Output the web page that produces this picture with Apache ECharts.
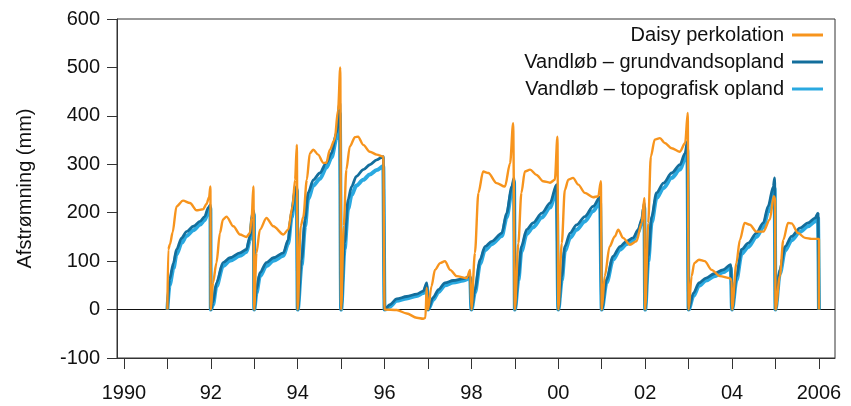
<!DOCTYPE html>
<html>
<head>
<meta charset="utf-8">
<script src="https://cdn.jsdelivr.net/npm/echarts@6/dist/echarts.min.js"></script>
<style>
html,body{margin:0;padding:0;background:#fff;}
#chart{width:851px;height:406px;}
</style>
</head>
<body>
<div id="chart"></div>
<script>
// Years with data (each year accumulates from 0 on 1 January)
const years = [1991,1992,1993,1994,1995,1996,1997,1998,1999,2000,2001,2002,2003,2004,2005];
const endYear = 2006;

// x tick positions (years) and labels
const xTickValues = [1990,1991,1992,1993,1994,1995,1996,1997,1998,1999,2000,2001,2002,2003,2004,2005,2006];
const xLabelValues = [1990,1992,1994,1996,1998,2000,2002,2004,2006];
const xLabelTexts = ['1990','92','94','96','98','00','02','04','2006'];

const seriesNames = ['Daisy perkolation','Vandløb – grundvandsopland','Vandløb – topografisk opland'];

// Daisy perkolation: per year, [fraction of year, cumulative mm]
const daisy = [
  [[0,0],[0.02,124],[0.06,135],[0.12,159],[0.21,213],[0.36,225],[0.52,220],[0.67,205],[0.82,207],[0.9,218],[0.96,232],[0.99,254]],
  [[0,0],[0.05,55],[0.13,97],[0.21,158],[0.28,186],[0.36,192],[0.52,172],[0.67,155],[0.82,150],[0.9,158],[0.94,190],[0.98,254]],
  [[0,0],[0.05,117],[0.13,165],[0.28,189],[0.44,172],[0.67,155],[0.78,165],[0.88,213],[0.94,268],[0.98,340]],
  [[0,0],[0.07,172],[0.13,192],[0.21,268],[0.28,323],[0.36,330],[0.47,320],[0.59,303],[0.66,303],[0.74,330],[0.85,351],[0.93,412],[0.98,500]],
  [[0,0],[0.06,172],[0.12,289],[0.2,337],[0.32,356],[0.39,357],[0.51,340],[0.66,326],[0.82,320],[0.97,316]],
  [[0,0],[0.28,-1],[0.51,-8],[0.74,-17],[0.89,-19],[0.94,-17],[0.97,45],[0.99,5]],
  [[0,0],[0.08,48],[0.16,82],[0.28,96],[0.39,100],[0.51,82],[0.66,69],[0.89,65],[0.97,82]],
  [[0,0],[0.08,117],[0.16,241],[0.27,285],[0.39,282],[0.58,261],[0.77,254],[0.89,302],[0.96,385]],
  [[0,0],[0.08,137],[0.15,241],[0.23,285],[0.35,289],[0.5,278],[0.65,265],[0.81,262],[0.92,268],[0.98,357]],
  [[0,0],[0.08,137],[0.15,247],[0.23,268],[0.34,272],[0.46,258],[0.61,241],[0.8,232],[0.92,234],[0.98,265]],
  [[0,0],[0.07,69],[0.18,130],[0.3,151],[0.38,165],[0.49,148],[0.65,134],[0.8,141],[0.92,179],[0.98,230]],
  [[0,0],[0.07,179],[0.13,316],[0.22,351],[0.34,354],[0.45,344],[0.61,333],[0.8,326],[0.92,344],[0.98,406]],
  [[0,0],[0.07,69],[0.13,96],[0.24,103],[0.37,100],[0.53,82],[0.72,69],[0.95,65],[0.99,60]],
  [[0,0],[0.1,96],[0.18,144],[0.29,179],[0.41,175],[0.56,161],[0.72,161],[0.87,186],[0.96,234],[0.99,230]],
  [[0,0],[0.1,69],[0.18,144],[0.29,179],[0.37,178],[0.52,158],[0.68,148],[0.83,146],[0.98,146],[1.0,146]]
];

// Vandløb – grundvandsopland
const grundvand = [
  [[0,0],[0.05,62],[0.14,96],[0.21,124],[0.33,148],[0.44,161],[0.6,172],[0.75,182],[0.86,192],[0.94,210],[0.99,216]],
  [[0,0],[0.05,15],[0.13,55],[0.28,97],[0.44,107],[0.67,117],[0.82,124],[0.9,151],[0.96,198],[0.99,204]],
  [[0,0],[0.05,41],[0.13,76],[0.28,97],[0.44,107],[0.67,117],[0.78,144],[0.86,200],[0.94,247],[0.98,255]],
  [[0,0],[0.09,103],[0.17,186],[0.24,241],[0.36,268],[0.51,282],[0.66,303],[0.78,323],[0.89,365],[0.97,427]],
  [[0,0],[0.08,138],[0.16,227],[0.24,254],[0.35,275],[0.51,289],[0.66,299],[0.82,309],[0.97,316]],
  [[0,0],[0.12,10],[0.28,22],[0.51,27],[0.74,32],[0.89,38],[0.97,55]],
  [[0,0],[0.12,25],[0.24,41],[0.39,55],[0.58,60],[0.82,64],[0.97,69]],
  [[0,0],[0.08,41],[0.2,103],[0.31,130],[0.47,141],[0.7,158],[0.81,199],[0.93,254],[0.98,272]],
  [[0,0],[0.08,69],[0.15,130],[0.27,165],[0.42,179],[0.62,199],[0.81,220],[0.96,258]],
  [[0,0],[0.08,69],[0.15,130],[0.27,158],[0.42,175],[0.61,192],[0.8,213],[0.96,232]],
  [[0,0],[0.11,62],[0.26,110],[0.42,130],[0.57,141],[0.72,148],[0.84,165],[0.92,186],[0.98,220]],
  [[0,0],[0.07,110],[0.15,192],[0.26,241],[0.42,261],[0.61,282],[0.8,299],[0.92,323],[0.97,347]],
  [[0,0],[0.11,34],[0.24,55],[0.4,65],[0.59,74],[0.79,82],[0.97,93]],
  [[0,0],[0.1,69],[0.22,124],[0.37,137],[0.56,158],[0.72,179],[0.83,213],[0.95,254],[0.98,272]],
  [[0,0],[0.1,82],[0.22,130],[0.37,151],[0.56,168],[0.75,179],[0.91,189],[0.98,199]]
];

// Vandløb – topografisk opland
const topografisk = [
  [[0,0],[0.05,50],[0.14,85],[0.21,114],[0.33,138],[0.44,152],[0.6,164],[0.75,175],[0.86,185],[0.94,203],[0.99,209]],
  [[0,0],[0.05,10],[0.13,48],[0.28,90],[0.44,101],[0.67,111],[0.82,119],[0.9,144],[0.96,190],[0.99,196]],
  [[0,0],[0.05,34],[0.13,69],[0.28,90],[0.44,101],[0.67,111],[0.78,136],[0.86,190],[0.94,238],[0.98,246]],
  [[0,0],[0.09,92],[0.17,172],[0.24,228],[0.36,256],[0.51,270],[0.66,293],[0.78,314],[0.89,352],[0.97,405]],
  [[0,0],[0.08,125],[0.16,208],[0.24,236],[0.35,256],[0.51,268],[0.66,279],[0.82,288],[0.97,296]],
  [[0,0],[0.12,6],[0.28,18],[0.51,23],[0.74,28],[0.89,34],[0.97,48]],
  [[0,0],[0.12,20],[0.24,36],[0.39,50],[0.58,56],[0.82,60],[0.97,65]],
  [[0,0],[0.08,35],[0.2,95],[0.31,123],[0.47,135],[0.7,152],[0.81,190],[0.93,244],[0.98,264]],
  [[0,0],[0.08,60],[0.15,120],[0.27,156],[0.42,170],[0.62,190],[0.81,211],[0.96,248]],
  [[0,0],[0.08,60],[0.15,120],[0.27,148],[0.42,165],[0.61,182],[0.8,203],[0.96,222]],
  [[0,0],[0.11,55],[0.26,103],[0.42,124],[0.57,135],[0.72,143],[0.84,160],[0.92,180],[0.98,210]],
  [[0,0],[0.07,100],[0.15,180],[0.26,230],[0.42,251],[0.61,272],[0.8,289],[0.92,312],[0.97,330]],
  [[0,0],[0.11,28],[0.24,49],[0.4,60],[0.59,69],[0.79,77],[0.97,86]],
  [[0,0],[0.1,60],[0.22,115],[0.37,129],[0.56,150],[0.72,170],[0.83,202],[0.95,238],[0.98,250]],
  [[0,0],[0.1,74],[0.22,122],[0.37,143],[0.56,160],[0.75,172],[0.91,182],[0.98,190]]
];

function buildSeries(perYear) {
  const out = [];
  perYear.forEach(function (pts, i) {
    pts.forEach(function (p) { out.push([years[i] + p[0], p[1]]); });
  });
  out.push([endYear, 0]);
  return out;
}

const FONT = 'Liberation Sans, Arial, Helvetica, sans-serif';
const FS = 20;
const chart = echarts.init(document.getElementById('chart'), null, {renderer: 'canvas'});

chart.setOption({
  animation: false,
  backgroundColor: '#ffffff',
  grid: {left: 117, right: 16, top: 19, bottom: 48, show: true, borderColor: '#333', borderWidth: 1, backgroundColor: 'transparent'},
  legend: {
    orient: 'vertical',
    right: 23,
    top: 20,
    align: 'right',
    icon: 'rect',
    itemWidth: 31,
    itemHeight: 3,
    itemGap: 7,
    textStyle: {fontFamily: FONT, fontSize: FS, color: '#111', padding: [0, 3, 0, 0]},
    data: seriesNames
  },
  xAxis: {
    type: 'value',
    min: 1989.84,
    max: 2006.37,
    splitLine: {show: false},
    axisLine: {show: true, onZero: false, lineStyle: {color: '#333', width: 1}},
    axisTick: {show: true, length: 11, lineStyle: {color: '#333', width: 1}, customValues: xTickValues},
    axisLabel: {
      customValues: xLabelValues,
      margin: 25,
      fontFamily: FONT, fontSize: FS, color: '#111',
      formatter: function (v) { return xLabelTexts[xLabelValues.indexOf(Math.round(v))]; }
    }
  },
  yAxis: {
    type: 'value',
    min: -100,
    max: 600,
    interval: 100,
    name: 'Afstrømning (mm)',
    nameLocation: 'middle',
    nameGap: 82,
    nameRotate: 90,
    nameTextStyle: {fontFamily: FONT, fontSize: FS, color: '#111'},
    splitLine: {show: false},
    axisLine: {show: true, onZero: false, lineStyle: {color: '#333', width: 1}},
    axisTick: {show: true, length: 10, lineStyle: {color: '#333', width: 1}},
    axisLabel: {margin: 17, fontFamily: FONT, fontSize: FS, color: '#111'}
  },
  series: [
    {
      name: seriesNames[2], type: 'line', data: buildSeries(topografisk),
      showSymbol: false, symbol: 'none', smooth: 0.3, smoothMonotone: 'x',
      lineStyle: {color: '#2aa9e0', width: 4}, itemStyle: {color: '#2aa9e0'}, z: 2,
      markLine: {silent: true, symbol: 'none', label: {show: false},
        lineStyle: {color: '#111', width: 1, type: 'solid'}, data: [{yAxis: 0}], z: 1}
    },
    {
      name: seriesNames[1], type: 'line', data: buildSeries(grundvand),
      showSymbol: false, symbol: 'none', smooth: 0.3, smoothMonotone: 'x',
      lineStyle: {color: '#136e9c', width: 2.8}, itemStyle: {color: '#136e9c'}, z: 3
    },
    {
      name: seriesNames[0], type: 'line', data: buildSeries(daisy),
      showSymbol: false, symbol: 'none', smooth: 0.3, smoothMonotone: 'x',
      lineStyle: {color: '#f7941d', width: 2.4}, itemStyle: {color: '#f7941d'}, z: 4
    }
  ]
});
</script>
</body>
</html>
